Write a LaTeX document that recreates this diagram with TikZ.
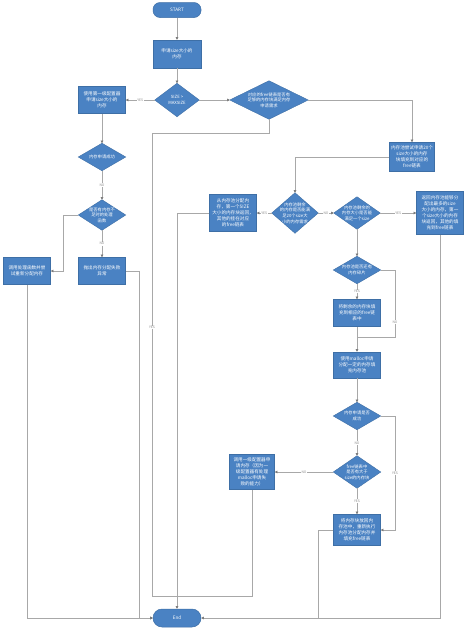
\documentclass[tikz,border=0pt]{standalone}
\usepackage{fontspec}
\setmainfont{Noto Sans CJK SC}
\usetikzlibrary{arrows.meta, positioning, backgrounds}
\definecolor{cfill}{HTML}{4A82C3}
\definecolor{cedge}{HTML}{3E6FA6}
\definecolor{cline}{HTML}{A8A8A8}
\definecolor{ctip}{HTML}{7A7A7A}
\definecolor{clabel}{HTML}{8C8C8C}
\tikzset{
  every picture/.style={line width=0.5pt},
  blk/.style={draw=cedge, fill=cfill, text=white, align=center, inner sep=0pt,
    font=\fontsize{4.6}{6}\selectfont, minimum width=47pt, minimum height=#1},
  blk/.default=27pt,
  term/.style={blk=#1, rounded corners=7pt, minimum width=48pt},
  term/.default=15pt,
  dec/.style={text=white, align=center, inner sep=0pt,
    font=\fontsize{4.3}{5.6}\selectfont, minimum width=47pt, minimum height=#1},
  dec/.default=27pt,
  link/.style={draw=cline, line width=0.5pt},
  arrow/.style={link, -{Triangle[length=2.6pt, width=2.6pt, color=ctip]}},
  yn/.style={font=\fontsize{3.4}{4}\selectfont, text=clabel, fill=white, inner sep=0.6pt},
}

\begin{document}
\begin{tikzpicture}[x=1pt, y=-1pt]
  \useasboundingbox (0,0) rectangle (466,632);
  \node[term] (start) at (177,10) {START};
  \node[blk=28pt, minimum width=48pt] (req) at (177,54) {申请size大小的\\内存};
  \node[dec=33pt, minimum width=44pt] (big) at (177,100) {SIZE >\\MAXSIZE};
  \node[blk] (lv1) at (102,100) {使用第一级配置器\\申请size大小的\\内存};
  \node[dec=38pt, minimum width=78pt] (chk) at (269,100) {对应的free链表是否有\\足够的内存块满足内存\\申请需求};
  \node[blk=29pt, minimum width=45pt] (fill) at (412,157) {内存池尝试申请20个\\size大小的内存\\块填充到对应的\\free链表};
  \node[dec=40pt, minimum width=46pt] (pool20) at (295,213) {内存池剩余\\的内存是否能满\\足20个size大\\小的内存需求};
  \node[blk=37pt] (take) at (233,213) {从内存池分配内\\存，第一个SIZE\\大小的内存块返回，\\其他的挂在对应\\的free链表};
  \node[dec=32pt, minimum width=46pt] (pool1) at (357,213) {内存池剩余的\\内存大小是否能\\满足一个size};
  \node[blk=43pt, minimum width=47pt] (give) at (440,213) {返回内存池能够分\\配出最多的size\\大小的内存，第一\\个size大小的内存\\块返回，其他的填\\充到free链表};
  \node[dec] (frag) at (357,270) {内存池是否还有\\内存碎片};
  \node[blk] (put) at (357,313) {将剩余的内存块填\\充到相应的free链\\表中};
  \node[blk=26pt] (mal) at (357,365) {使用malloc申请\\分配一定的内存填\\充内存池};
  \node[dec] (ok2) at (357,416) {内存申请是否\\成功};
  \node[dec=32pt] (big2) at (357,472) {free链表中\\是否有大于\\size的内存块};
  \node[blk=35pt, minimum width=45pt] (call1) at (252,472) {调用一级配置器申\\请内存（因为一\\级配置器有处理\\malloc申请失\\败的能力）};
  \node[blk=31pt] (back) at (357,530) {将内存块放回内\\存池中，重新执行\\内存池分配内存并\\填充free链表};
  \node[dec] (ok1) at (102,157) {内存申请成功};
  \node[dec=30pt] (hnd) at (102,215) {是否有内存不\\足时的处理\\函数};
  \node[blk] (thr) at (102,271) {抛出内存分配失败\\异常};
  \node[blk] (retry) at (27,271) {调用处理函数并尝\\试重新分配内存};
  \node[term=18pt, rounded corners=9pt] (end) at (177,618) {End};
  \coordinate (join) at (177,596);

  \begin{scope}[on background layer]
    \fill[white] (0,0) rectangle (466,632);
    \foreach \d in {big,chk,pool20,pool1,frag,ok2,big2,ok1,hnd}
      \filldraw[draw=cedge, fill=cfill] (\d.north) -- (\d.east) -- (\d.south) -- (\d.west) -- cycle;
  \end{scope}

  \draw[arrow] (start) -- (req);
  \draw[arrow] (req) -- (big);
  \draw[arrow] (big.west) -- node[yn]{YES} (lv1.east);
  \draw[arrow] (big.east) -- (chk.west);
  \draw[arrow] (chk.east) -| (fill.north);
  \draw[link] (chk.south) |- (152,133) -- node[yn, pos=0.42]{YES} (152,596) -- (join);
  \draw[arrow] (fill.west) -| (pool20.north);
  \draw[arrow] (pool20.west) -- node[yn]{YES} (take.east);
  \draw[arrow] (take.west) -| (end.north);
  \draw[arrow] (pool20.east) -- node[yn]{NO} (pool1.west);
  \draw[arrow] (pool1.east) -- node[yn]{YES} (give.west);
  \draw[arrow] (give.south) |- (end.east);
  \draw[arrow] (pool1.south) -- (frag.north);
  \draw[arrow] (frag.south) -- node[yn]{YES} (put.north);
  \draw[link] (frag.east) -- (395,270) -- node[yn, pos=0.78]{NO} (395,337) -- (357,337);
  \draw[arrow] (put) -- (mal);
  \draw[arrow] (mal) -- (ok2);
  \draw[arrow] (ok2.south) -- node[yn]{NO} (big2.north);
  \draw[arrow] (ok2.east) -- (395,416) -- node[yn]{YES} (395,530) -- (back.east);
  \draw[arrow] (big2.west) -- node[yn]{NO} (call1.east);
  \draw[arrow] (big2.south) -- node[yn]{YES} (back.north);
  \draw[link] (call1.south) |- (join);
  \draw[link] (back.west) -| (318,618);
  \draw[arrow] (lv1) -- (ok1);
  \draw[arrow] (ok1.south) -- node[yn]{NO} (hnd.north);
  \draw[arrow] (hnd.south) -- node[yn]{NO} (thr.north);
  \draw[arrow] (hnd.west) -| (63,271) -- (retry.east);
  \draw[arrow] (thr.east) -| (139,618) -- (end.west);
  \draw[arrow] (retry.south) |- (end.west);
\end{tikzpicture}
\end{document}
